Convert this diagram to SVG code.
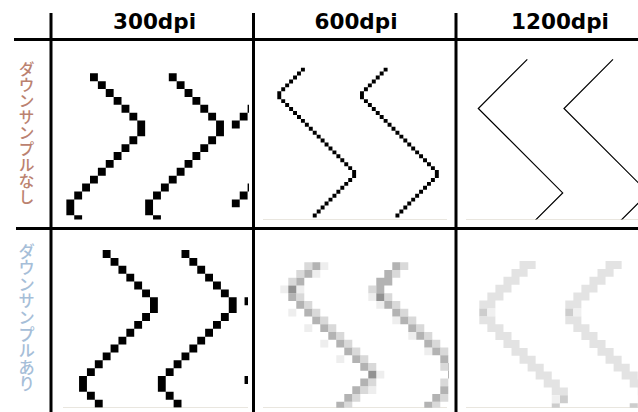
<svg xmlns="http://www.w3.org/2000/svg" width="638" height="412" viewBox="0 0 638 412">
<style>
.rule{stroke:#000;stroke-width:3;fill:none}
.hdr{font-family:"DejaVu Sans","Liberation Sans",sans-serif;font-weight:bold;font-size:21.5px;fill:#000;text-anchor:middle}
.side{font-family:"Noto Sans CJK JP",sans-serif;font-weight:500;writing-mode:vertical-rl}
.px{fill:#000}
.thin{fill:none;stroke:#000;stroke-width:1.2}
.edge{stroke:#e9e6df;stroke-width:1;fill:none}
.gm{fill:#b3b3b3}.gd{fill:#929292}.gl{fill:#d9d9d9}.gf{fill:#eeeeee}
.lm{fill:#e3e3e3}.ld{fill:#cdcdcd}.lf{fill:#f0f0f0}
</style>
<defs>
<clipPath id="c1"><rect x="52.5" y="41" width="196.5" height="178.5"/></clipPath>
<clipPath id="c2"><rect x="255.5" y="41" width="193.5" height="178.5"/></clipPath>
<clipPath id="c3"><rect x="457.5" y="41" width="180.5" height="178.5"/></clipPath>
<clipPath id="c4"><rect x="52.5" y="230" width="195.5" height="177.7"/></clipPath>
<clipPath id="c5"><rect x="255.5" y="230" width="193.5" height="177.7"/></clipPath>
<clipPath id="c6"><rect x="457.5" y="230" width="180.5" height="177.7"/></clipPath>
<path id="chevA" d="M0 0h1v1h-1z m1 1h1v1h-1z m1 1h1v1h-1z m1 1h1v1h-1z m1 1h1v1h-1z m1 1h1v1h-1z m1 1h1v2h-1z m-1 2h1v1h-1z m-1 1h1v1h-1z m-1 1h1v1h-1z m-1 1h1v1h-1z m-1 1h1v1h-1z m-1 1h1v1h-1z m-1 1h1v1h-1z m-1 1h1v1h-1z m-1 1h1v2h-1z m1 2h1v1h-1z m1 1h1v1h-1z"/>
<path id="zigB" d="M6 -6h1v1h-1z m-1 1h1v1h-1z m-1 1h1v1h-1z m-1 1h1v1h-1z m-1 1h1v1h-1z m-1 1h1v1h-1z m-1 1h1v2h-1z m1 2h1v1h-1z m1 1h1v1h-1z m1 1h1v1h-1z m1 1h1v1h-1z m1 1h1v1h-1z m1 1h1v1h-1z m1 1h1v1h-1z m1 1h1v1h-1z m1 1h1v1h-1z m1 1h1v1h-1z m1 1h1v1h-1z m1 1h1v1h-1z m1 1h1v1h-1z m1 1h1v1h-1z m1 1h1v1h-1z m1 1h1v1h-1z m1 1h1v1h-1z m1 1h1v1h-1z m1 1h1v2h-1z m-1 2h1v1h-1z m-1 1h1v1h-1z m-1 1h1v1h-1z m-1 1h1v1h-1z m-1 1h1v1h-1z m-1 1h1v1h-1z m-1 1h1v1h-1z m-1 1h1v1h-1z m-1 1h1v1h-1z m-1 1h1v1h-1z"/>
<g id="lightZ">
<path class="lm" d="M5 0h2v1h-2z M4 1h2v1h-2z M3 2h2v1h-2z M2 3h2v1h-2z M1 4h2v1h-2z M0 5h2v1h-2z M0 7h2v1h-2z M1 8h2v1h-2z M2 9h2v1h-2z M3 10h2v1h-2z M4 11h2v1h-2z M5 12h2v1h-2z M6 13h2v1h-2z M7 14h2v1h-2z M8 15h2v1h-2z M9 16h2v1h-2z"/>
<path class="ld" d="M0 6h1v1h-1z M10 17h1v1h-1z M9 18h1v1h-1z"/>
<path class="lf" d="M1 6h1v1h-1z M9 17h1v1h-1z"/>
</g>
</defs>
<rect width="638" height="412" fill="#fff"/>

<g id="grid">
<line class="rule" x1="14" y1="39.5" x2="638" y2="39.5"/>
<line class="rule" x1="16" y1="228.5" x2="638" y2="228.5"/>
<line class="rule" x1="51" y1="13" x2="51" y2="412"/>
<line class="rule" x1="253.5" y1="13" x2="253.5" y2="412"/>
<line class="rule" x1="456" y1="13" x2="456" y2="412"/>
</g>

<g id="headers">
<text class="hdr" x="154.5" y="28.5">300dpi</text>
<text class="hdr" x="356" y="28.5">600dpi</text>
<text class="hdr" x="560" y="28.5">1200dpi</text>
</g>

<g id="row-labels">
<text class="side" x="26.5" y="61" font-size="16" fill="#bb8270">ダウンサンプルなし</text>
<text class="side" x="26.5" y="243" font-size="16.6" fill="#a6bed8">ダウンサンプルあり</text>
</g>

<g id="edges">
<line class="edge" x1="263" y1="219.5" x2="447" y2="219.5"/>
<line class="edge" x1="466" y1="219.5" x2="638" y2="219.5"/>
<line class="edge" x1="63" y1="407.5" x2="248" y2="407.5"/>
<line class="edge" x1="263" y1="407.5" x2="447" y2="407.5"/>
<line class="edge" x1="466" y1="407.5" x2="638" y2="407.5"/>
</g>

<g id="cell-300-no" clip-path="url(#c1)">
<use href="#chevA" class="px" transform="translate(90 73.3) scale(7.88)"/>
<use href="#chevA" class="px" transform="translate(168.8 73.3) scale(7.88)"/>
<path class="px" transform="translate(90 73.3) scale(7.88)" d="M19 5h1v1h-1z M18 6h1v1h-1z M20 4h1v1h-1z M19 15h1v1h-1z M18 16h1v1h-1z M20 14h1v1h-1z"/>
</g>

<g id="cell-600-no" clip-path="url(#c2)">
<use href="#zigB" class="px" transform="translate(277.3 91.3) scale(3.94)"/>
<use href="#zigB" class="px" transform="translate(360 91.3) scale(3.94)"/>
</g>

<g id="cell-1200-no" clip-path="url(#c3)">
<polyline class="thin" points="527.3,59.3 478.3,108.5 562.7,192.9 528,227.6"/>
<polyline class="thin" points="613,59.3 564,108.5 648.4,192.9 614,227.3"/>
</g>

<g id="cell-300-ds" clip-path="url(#c4)">
<use href="#chevA" class="px" transform="translate(102.7 250) scale(7.88)"/>
<use href="#chevA" class="px" transform="translate(181.5 250) scale(7.88)"/>
<path class="px" transform="translate(102.7 250) scale(7.88)" d="M18 6h1v1h-1z M18 16h1v1h-1z"/>
</g>

<g id="cell-600-ds" clip-path="url(#c5)">
<g transform="translate(288.3 262.3) scale(8 7.75)">
<path class="gf" d="M4 0h1v1h-1z M3 1h1v1h-1z M-1 3h1v1h-1z M1 3h1v1h-1z M0 6h1v1h-1z M2 8h1v1h-1z M4 10h1v1h-1z M6 12h1v1h-1z M11 14h1v1h-1z M10 16h1v1h-1z"/>
<path class="gl" d="M2 0h1v1h-1z M1 1h1v1h-1z M0 2h1v1h-1z M1 4h1v1h-1z M2 5h1v1h-1z M3 6h1v1h-1z M4 7h1v1h-1z M5 8h1v1h-1z M6 9h1v1h-1z M7 10h1v1h-1z M8 11h1v1h-1z M9 12h1v1h-1z M10 13h1v1h-1z M10 15h1v1h-1z M9 16h1v1h-1z M8 17h1v1h-1z M7 18h1v1h-1z"/>
<path class="gm" d="M3 0h1v1h-1z M2 1h1v1h-1z M1 2h1v1h-1z M0 4h1v1h-1z M1 5h1v1h-1z M2 6h1v1h-1z M3 7h1v1h-1z M4 8h1v1h-1z M5 9h1v1h-1z M6 10h1v1h-1z M7 11h1v1h-1z M8 12h1v1h-1z M9 13h1v1h-1z M9 15h1v1h-1z M8 16h1v1h-1z M7 17h1v1h-1z M6 18h1v1h-1z"/>
<path class="gd" d="M0 3h1v1h-1z M10 14h1v1h-1z"/>
</g>
<g transform="translate(376.3 262.3) scale(8 7.75)">
<path class="gf" d="M-1 4h1v1h-1z M0 5h1v1h-1z M2 7h1v1h-1z M4 9h1v1h-1z M6 11h1v1h-1z"/>
<path class="gl" d="M3 0h1v1h-1z M2 1h1v1h-1z M-1 3h1v1h-1z M1 4h1v1h-1z M2 5h1v1h-1z M3 6h1v1h-1z M4 7h1v1h-1z M5 8h1v1h-1z M6 9h1v1h-1z M7 10h1v1h-1z M8 11h1v1h-1z M8 13h1v1h-1z M8 15h1v1h-1z M8 17h1v1h-1z M7 18h1v1h-1z"/>
<path class="gm" d="M2 0h1v1h-1z M1 1h1v1h-1z M0 2h1v1h-1z M1 2h1v1h-1z M0 3h1v1h-1z M1 5h1v1h-1z M2 6h1v1h-1z M3 7h1v1h-1z M4 8h1v1h-1z M5 9h1v1h-1z M6 10h1v1h-1z M7 11h1v1h-1z M8 12h1v1h-1z M9 13h1v1h-1z M8 16h1v1h-1z M7 17h1v1h-1z M6 18h1v1h-1z"/>
<path class="gd" d="M0 4h1v1h-1z M9 14h1v1h-1z"/>
</g>
</g>

<g id="cell-1200-ds" clip-path="url(#c6)">
<use href="#lightZ" transform="translate(479.3 261) scale(8.05 7.9)"/>
<use href="#lightZ" transform="translate(565.3 261) scale(8.05 7.9)"/>
<path class="ld" transform="translate(565.3 261) scale(8.05 7.9)" d="M8 18h1v1h-1z"/>
</g>
</svg>
